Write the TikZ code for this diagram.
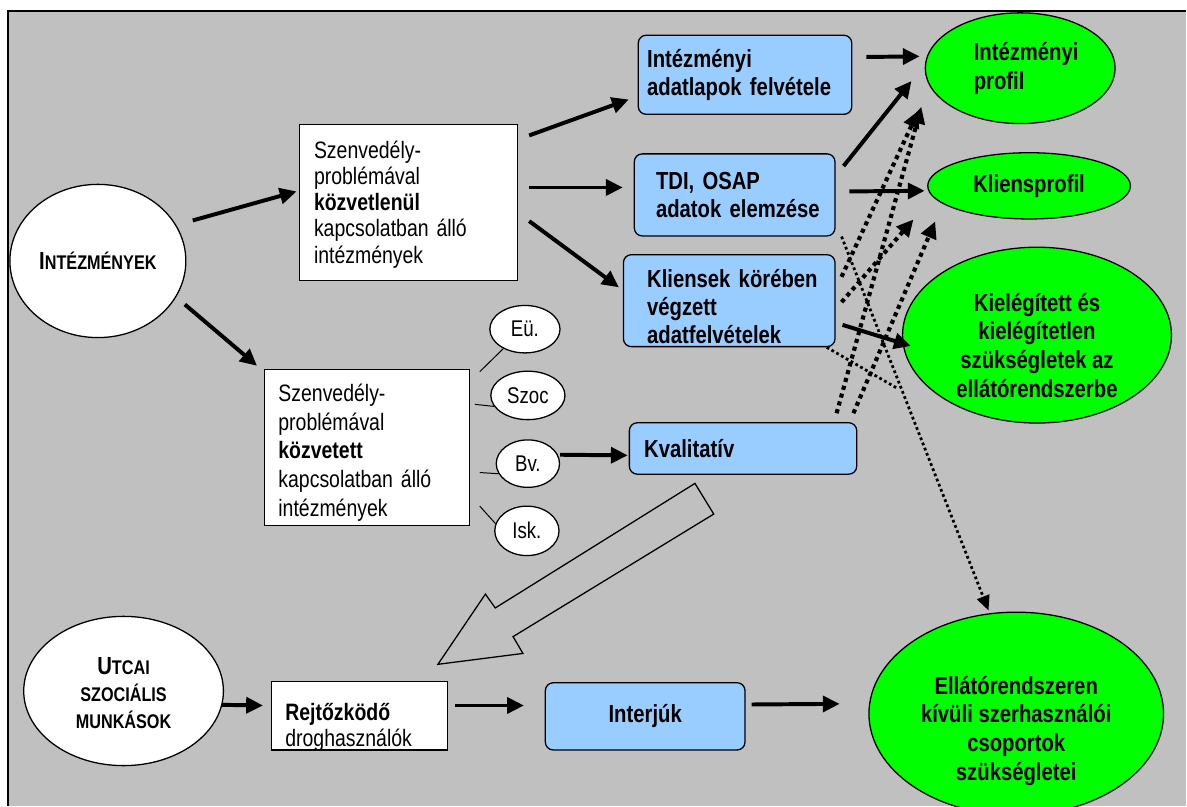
\documentclass[tikz,border=0pt]{standalone}
\usepackage{fontspec}
\setmainfont[FakeStretch=0.82]{Liberation Sans}
\usetikzlibrary{shapes.geometric,arrows.meta}
\definecolor{bggray}{HTML}{C0C0C0}
\definecolor{boxblue}{HTML}{99CCFF}
\definecolor{profgreen}{HTML}{00FF00}
\newcommand{\kiskap}[1]{{\fontsize{20}{20}\selectfont #1}}
\newcommand{\nagykap}[1]{{\fontsize{25}{27.5}\selectfont #1}}
\newcommand{\lejjebb}[1]{\rule{0pt}{#1}}
\begin{document}
\begin{tikzpicture}[x=1pt,y=-1pt,
  whitebox/.style={draw,fill=white,line width=1.3pt,inner ysep=0pt,anchor=north west,align=left,font=\fontsize{24}{26.5}\selectfont},
  bluebox/.style={draw,fill=boxblue,line width=1.3pt,rounded corners=8pt,inner ysep=0pt,anchor=north west,align=left,font=\bfseries\fontsize{25}{28.5}\selectfont},
  greenell/.style={draw,fill=profgreen,ellipse,line width=1.3pt,inner sep=0pt,align=center,font=\bfseries\fontsize{25}{29}\selectfont},
  smallell/.style={draw,fill=white,ellipse,line width=1.3pt,inner sep=0pt,font=\fontsize{23}{24}\selectfont},
  bigell/.style={draw,fill=white,ellipse,line width=1.3pt,inner sep=0pt,align=center,font=\bfseries\fontsize{21}{27.5}\selectfont},
  arr/.style={line width=4pt,-{Triangle[length=17pt,width=16pt]}},
  dotarr/.style={line width=4.2pt,dash pattern=on 4.2pt off 4pt,-{Triangle[length=17pt,width=16pt]}},
  thindot/.style={line width=2.8pt,dash pattern=on 2.8pt off 2.8pt},
  thin/.style={line width=1pt}]
\fill[white] (0,0) rectangle (1187,802);
\fill[bggray] (8,11) rectangle (1200,815);
\draw[line width=1.5pt] (8,815) -- (8,11) -- (1200,11);
\useasboundingbox (0,0) rectangle (1187,802);

\node[bigell,minimum width=178,minimum height=155] (inst) at (99,264) {\nagykap{I}\kiskap{NTÉZMÉNYEK}};
\node[bigell,minimum width=202,minimum height=151] (utcai) at (125,699) {\lejjebb{22pt}\nagykap{U}\kiskap{TCAI}\\\kiskap{SZOCIÁLIS}\\\kiskap{MUNKÁSOK}};

\node[whitebox,minimum width=221,minimum height=158,text width=191,inner xsep=15] (box1) at (302,125) {\lejjebb{22pt}Szenvedély-\\problémával\\\textbf{közvetlenül}\\\mbox{kapcsolatban álló}\\intézmények};
\node[whitebox,minimum width=207,minimum height=158,text width=179,inner xsep=14,font=\fontsize{24}{29}\selectfont] (box2) at (267,373) {\lejjebb{28pt}Szenvedély-\\problémával\\\textbf{közvetett}\\\mbox{kapcsolatban álló}\\intézmények};
\node[whitebox,minimum width=178,minimum height=69,text width=150,inner xsep=14] (rejt) at (274,689) {\lejjebb{36pt}\textbf{Rejtőzködő}\\\smash{droghasználók}};

\node[smallell,minimum width=71,minimum height=48] (eu) at (531,333) {Eü.};
\node[smallell,minimum width=75,minimum height=49] (szoc) at (534,400) {Szoc};
\node[smallell,minimum width=64,minimum height=48] (bv) at (534,469) {Bv.};
\node[smallell,minimum width=65,minimum height=50] (isk) at (533,537) {Isk.};

\node[bluebox,minimum width=216,minimum height=80,text width=198,inner xsep=9] (adatlap) at (645,35) {Intézményi\\\mbox{adatlapok felvétele}};
\node[bluebox,minimum width=203,minimum height=83,text width=159,inner xsep=22] (tdi) at (641,155) {\mbox{TDI, OSAP}\\\mbox{adatok elemzése}};
\node[bluebox,minimum width=214,minimum height=93,text width=166,inner xsep=24] (kliens) at (630,257) {\lejjebb{30pt}\mbox{Kliensek körében}\\végzett\\adatfelvételek};
\node[bluebox,minimum width=230,minimum height=52,text width=200,inner xsep=15] (kval) at (636,427) {Kvalitatív};
\node[bluebox,minimum width=202,minimum height=68,text width=190,inner xsep=6,align=center] (interju) at (551,690) {Interjúk\\[6pt]};

\node[greenell,minimum width=192,minimum height=112,align=left] (profil) at (1032,69) {\hspace*{12pt}Intézményi\\\hspace*{12pt}profil};
\node[greenell,minimum width=205,minimum height=67] (klprofil) at (1041,188) {Kliensprofil};
\node[greenell,minimum width=272,minimum height=166] (szukseg) at (1049,339) {\lejjebb{38.5pt}Kielégített és\\kielégítetlen\\szükségletek az\\ellátórendszerbe};
\node[greenell,minimum width=298,minimum height=152] (kivul) at (1028,722) {\lejjebb{53pt}Ellátórendszeren\\kívüli szerhasználói\\csoportok\\szükségletei};

\draw[arr] ([shift={(96,-41)}]inst.center) -- ([shift={(-2,-11)}]box1.west);
\draw[arr] ([shift={(88,44)}]inst.center) -- ([shift={(-7,-3)}]box2.north west);
\draw[arr] ([shift={(11,12)}]box1.north east) -- ([shift={(-9,25)}]adatlap.west);
\draw[arr] ([shift={(11,-15)}]box1.east) -- ([shift={(-11,-7.5)}]tdi.west);
\draw[arr] ([shift={(11,19)}]box1.east) -- ([shift={(-4,-13.5)}]kliens.west);
\draw[arr] ([shift={(14,-18)}]adatlap.east) -- ([shift={(-5,-12)}]profil.west);
\draw[arr] ([shift={(8,13)}]tdi.north east) -- ([shift={(-110,13)}]profil.center);
\draw[arr] ([shift={(14,-3.5)}]tdi.east) -- ([shift={(-2.5,5)}]klprofil.west);
\draw[arr] ([shift={(7,24.5)}]kliens.east) -- ([shift={(9,11)}]szukseg.west);
\draw[arr] ([shift={(0,-9)}]bv.east) -- ([shift={(-1,7)}]kval.west);
\draw[arr] ([shift={(-2,14)}]utcai.east) -- ([shift={(-8,-10.5)}]rejt.west);
\draw[arr] ([shift={(7,-10.5)}]rejt.east) -- ([shift={(-21,-11)}]interju.west);
\draw[arr] ([shift={(6,-12)}]interju.east) -- ([shift={(-29,-10)}]kivul.west);

\draw[thin] ([shift={(10,3)}]box2.north east) -- (eu.222);
\draw[thin] ([shift={(5,36)}]box2.north east) -- (szoc.198);
\draw[thin] ([shift={(10,105)}]box2.north east) -- (bv.199);
\draw[thin] ([shift={(10,139)}]box2.north east) -- (isk.167);

\draw[dotarr] ([shift={(-21,-9)}]kval.north east) -- ([shift={(-100,39)}]profil.center);
\draw[dotarr] ([shift={(-4,-9)}]kval.north east) -- ([shift={(-95,36)}]klprofil.center);
\draw[dotarr] ([shift={(6,23)}]kliens.north east) -- ([shift={(-103,43)}]profil.center);
\draw[dotarr] ([shift={(6,1.5)}]kliens.east) -- ([shift={(-117,34)}]klprofil.center);
\draw[thindot,-{Triangle[length=15pt,width=13pt]}] ([shift={(6,0)}]tdi.south east) -- ([shift={(-28,-1)}]kivul.north);
\draw[thindot] ([shift={(-9,0)}]kliens.south east) -- ([shift={(-141,54)}]szukseg.center);

\draw[line width=1.3pt] (703,489) -- (722,520) -- (519,644) -- (529,661) -- (443,672) -- (491,601) -- (501,615) -- cycle;
\end{tikzpicture}
\end{document}
